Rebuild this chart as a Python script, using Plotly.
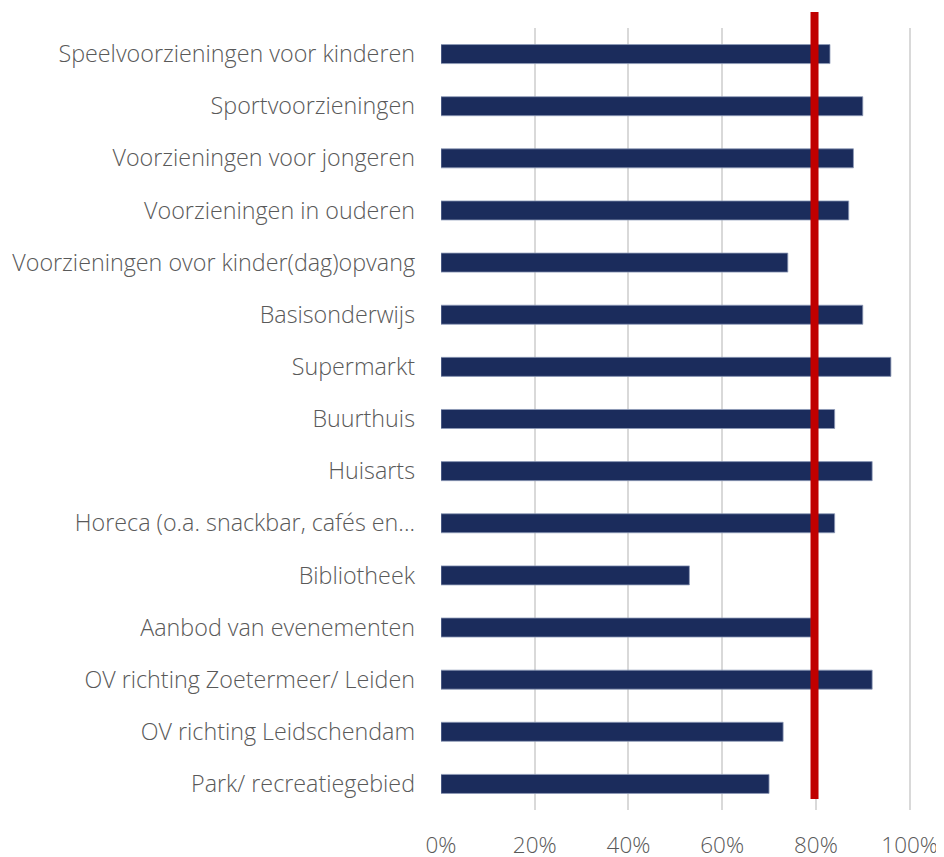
import plotly.graph_objects as go

categories = [
    "Speelvoorzieningen voor kinderen",
    "Sportvoorzieningen",
    "Voorzieningen voor jongeren",
    "Voorzieningen in ouderen",
    "Voorzieningen ovor kinder(dag)opvang",
    "Basisonderwijs",
    "Supermarkt",
    "Buurthuis",
    "Huisarts",
    "Horeca (o.a. snackbar, cafés en...",
    "Bibliotheek",
    "Aanbod van evenementen",
    "OV richting Zoetermeer/ Leiden",
    "OV richting Leidschendam",
    "Park/ recreatiegebied",
]
values = [0.83, 0.90, 0.88, 0.87, 0.74, 0.90, 0.96, 0.84, 0.92, 0.84, 0.53, 0.79, 0.92, 0.73, 0.70]
target = 0.797
tick_vals = [0, 0.2, 0.4, 0.6, 0.8, 1.0]
tick_text = ["0%", "20%", "40%", "60%", "80%", "100%"]

fig = go.Figure()
fig.add_trace(go.Bar(
    y=categories, x=values, orientation="h",
    marker=dict(color="#1B2C5C", line=dict(color="#8E9AB8", width=0.8)),
    hoverinfo="x+y",
))

fig.add_shape(type="line", xref="x", yref="paper",
              x0=target, x1=target, y0=0.014, y1=1.0205,
              line=dict(color="#C00000", width=8))

fig.update_layout(
    width=936, height=849,
    margin=dict(l=433, r=32, t=20, b=47),
    paper_bgcolor="white", plot_bgcolor="white",
    bargap=0.635,
    showlegend=False,
    font=dict(family="Open Sans", color="#595959", size=22, weight=300),
    xaxis=dict(
        range=[0, 1.005], tickvals=tick_vals, ticktext=tick_text,
        showgrid=True, gridcolor="#D9D9D9", gridwidth=2,
        zeroline=False, showline=False, ticks="",
        ticklabelstandoff=19,
        tickfont=dict(family="Open Sans", size=22.5, color="#595959", weight=300),
        automargin=False,
    ),
    yaxis=dict(
        categoryorder="array", categoryarray=categories[::-1],
        showgrid=False, zeroline=False, showline=False, ticks="",
        ticklabelstandoff=25,
        tickfont=dict(family="Open Sans", size=23.3, color="#595959", weight=300),
        automargin=False,
    ),
)
fig.write_html("out.html")
